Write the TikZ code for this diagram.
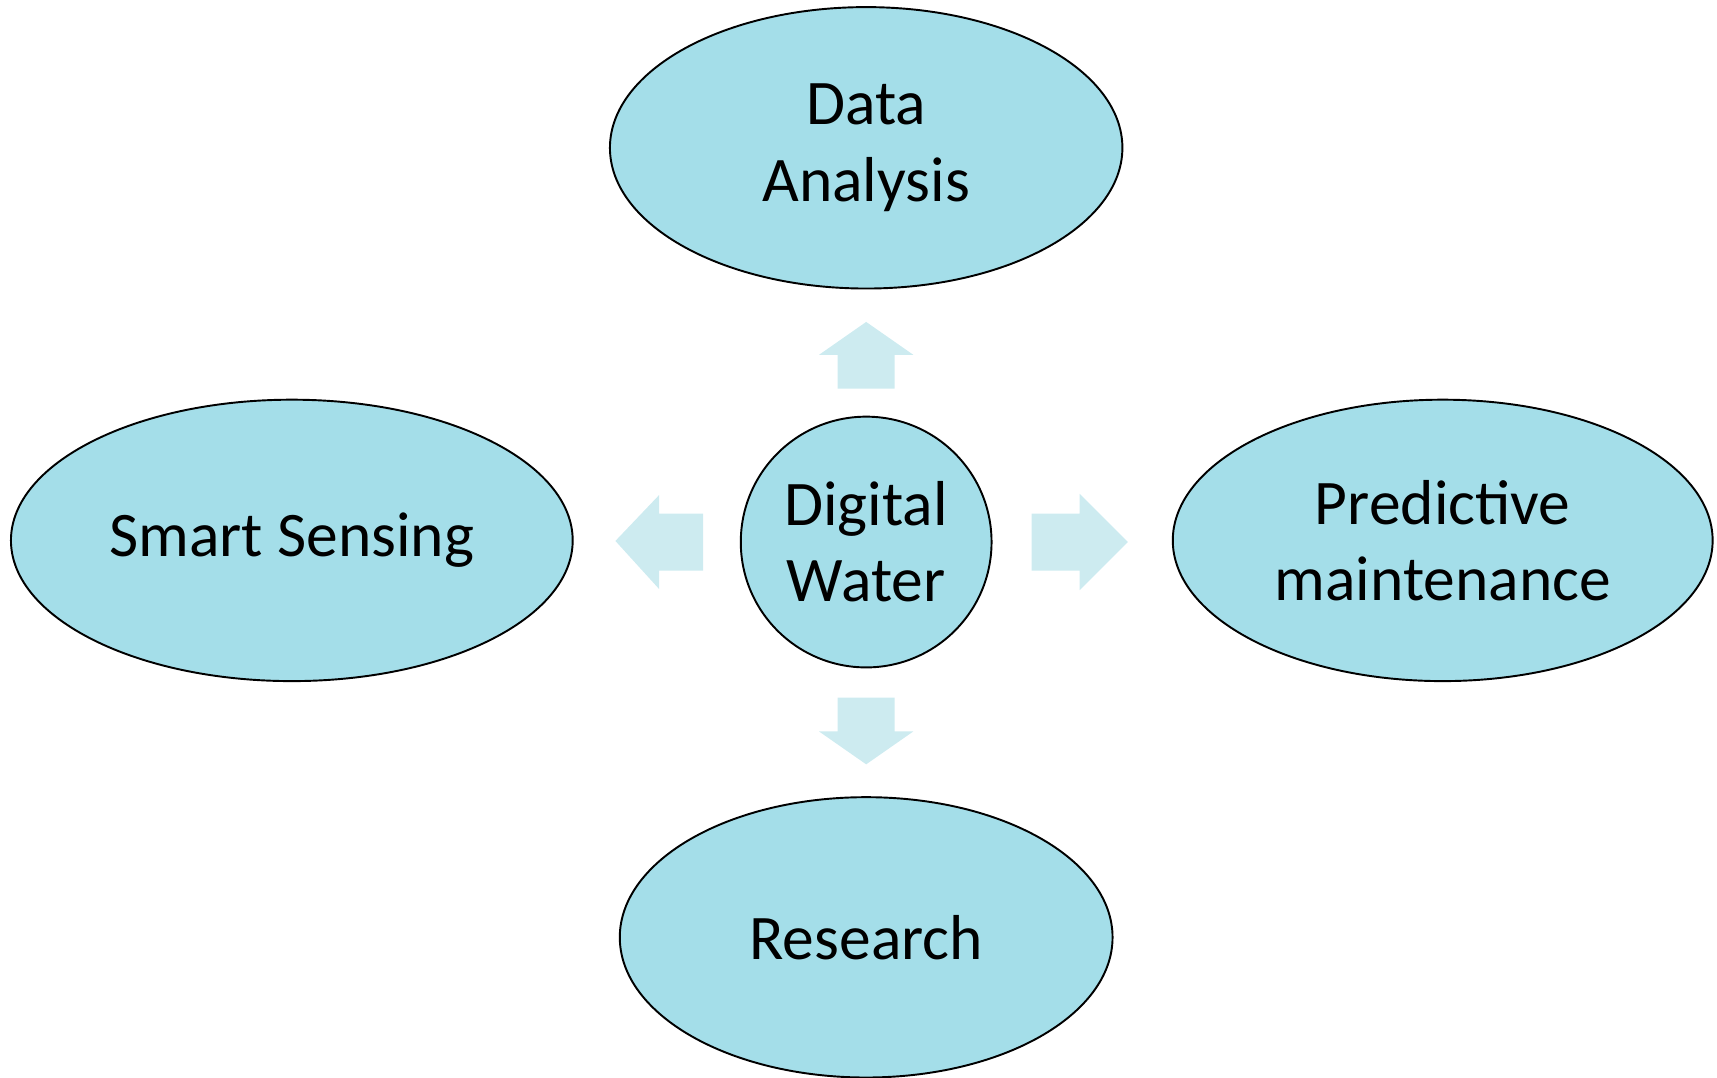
\documentclass[tikz,border=0pt]{standalone}
\usepackage{fontspec}
\setmainfont{Carlito}
\usepackage{xcolor}
\usetikzlibrary{shapes.geometric}

\definecolor{bubble}{HTML}{A4DEE9}
\definecolor{arrowfill}{HTML}{CDEBF0}

\begin{document}
\begin{tikzpicture}[
    topic/.style = {ellipse, draw = black, line width = 0.5pt, fill = bubble, inner sep = 0pt,
                    align = center, font = \fontsize{16.5}{19.8}\selectfont},
    hub/.style = {circle, draw = black, line width = 0.5pt, fill = bubble, inner sep = 0pt,
                  minimum size = 2.29cm, align = center, font = \fontsize{16.5}{19.8}\selectfont},
    blockarrow/.style = {fill = arrowfill}
  ]
            \useasboundingbox (0, 0) rectangle (15.68, 9.84);

            % centre
            \node[hub] (dw) at (7.91, 4.89) {Digital\\Water};

            % outer topics
            \node[topic, minimum width = 4.68cm, minimum height = 2.57cm] (da) at (7.91, 8.49) {Data\\Analysis};
            \node[topic, minimum width = 5.13cm, minimum height = 2.57cm] (ss) at (2.665, 4.905) {Smart Sensing};
            \node[topic, minimum width = 4.93cm, minimum height = 2.57cm] (pm) at (13.175, 4.905) {Predictive\\maintenance};
            \node[topic, minimum width = 4.50cm, minimum height = 2.56cm] (rs) at (7.91, 1.28) {Research};

            % block arrows
            \fill[blockarrow] (7.65, 6.29) -- (7.65, 6.60) -- (7.48, 6.60) -- (7.91, 6.90)
                -- (8.34, 6.60) -- (8.17, 6.60) -- (8.17, 6.29) -- cycle;
            \fill[blockarrow] (7.65, 3.47) -- (7.65, 3.16) -- (7.48, 3.16) -- (7.91, 2.86)
                -- (8.34, 3.16) -- (8.17, 3.16) -- (8.17, 3.47) -- cycle;
            \fill[blockarrow] (6.42, 5.15) -- (6.02, 5.15) -- (6.02, 5.32) -- (5.62, 4.90)
                -- (6.02, 4.46) -- (6.02, 4.63) -- (6.42, 4.63) -- cycle;
            \fill[blockarrow] (9.42, 5.15) -- (9.86, 5.15) -- (9.86, 5.33) -- (10.30, 4.89)
                -- (9.86, 4.45) -- (9.86, 4.63) -- (9.42, 4.63) -- cycle;
\end{tikzpicture}
\end{document}
